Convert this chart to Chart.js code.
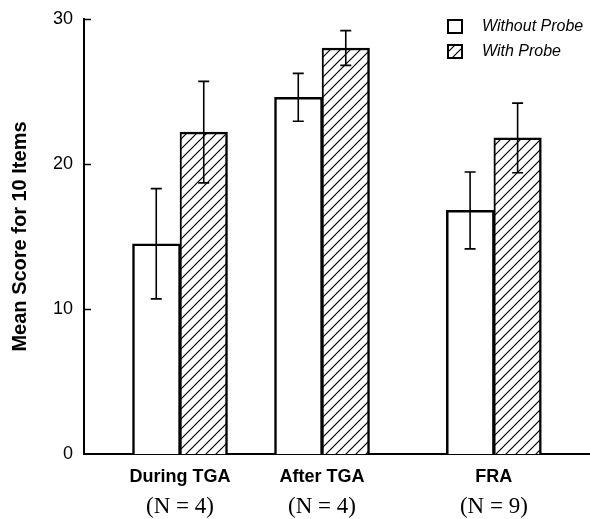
<!DOCTYPE html>
<html>
<head>
<meta charset="utf-8">
<title>Mean Score for 10 Items</title>
<script src="https://cdn.jsdelivr.net/npm/chart.js@4.4.1/dist/chart.umd.min.js"></script>
<style>
    html, body { margin: 0; padding: 0; background: #fff; }
    canvas { display: block; }
</style>
</head>
<body>
<canvas id="scoreChart" width="590" height="519"></canvas>
<script>
// ---------- DATA ----------
const groups = ['During TGA', 'After TGA', 'FRA'];
const groupSizes = ['(N = 4)', '(N = 4)', '(N = 9)'];
const seriesNames = ['Without Probe', 'With Probe'];

const withoutProbe = [14.5, 24.6, 16.8];
const withoutProbeErr = [3.8, 1.65, 2.65];
const withProbe = [22.2, 28.0, 21.8];
const withProbeErr = [3.5, 1.2, 2.4];

const yTicks = [0, 10, 20, 30];

// ---------- LAYOUT / STYLE ----------
// groups are not evenly spaced in the original, so x is a linear axis
const groupX = [1, 2, 3.21];
const sans = '"Liberation Sans", Arial, Helvetica, sans-serif';
const serif = '"Liberation Serif", "Times New Roman", serif';

var canvas = document.getElementById('scoreChart');
var ctx = canvas.getContext('2d');

// diagonal "/" hatch for the With Probe bars
function makeHatch() {
    const size = 10;
    const tile = document.createElement('canvas');
    tile.width = size;
    tile.height = size;
    const g = tile.getContext('2d');
    g.fillStyle = '#fff';
    g.fillRect(0, 0, size, size);
    g.strokeStyle = '#000';
    g.lineWidth = 1.2;
    g.beginPath();
    g.moveTo(-1, size + 1); g.lineTo(size + 1, -1);
    g.moveTo(-1, 1); g.lineTo(1, -1);
    g.moveTo(size - 1, size + 1); g.lineTo(size + 1, size - 1);
    g.stroke();
    return ctx.createPattern(tile, 'repeat');
}

function points(values) {
    return values.map((v, i) => ({ x: groupX[i], y: v }));
}

// error bars (mean +/- err), drawn on top of the bars
const errorBars = {
    id: 'errorBars',
    afterDatasetsDraw(chart) {
        const c = chart.ctx, y = chart.scales.y;
        c.save();
        c.strokeStyle = '#000';
        c.lineWidth = 1.6;
        chart.data.datasets.forEach((ds, d) => {
            chart.getDatasetMeta(d).data.forEach((bar, i) => {
                const v = ds.data[i].y, e = ds.errors[i];
                const top = y.getPixelForValue(v + e);
                const bot = y.getPixelForValue(v - e);
                c.beginPath();
                c.moveTo(bar.x, top); c.lineTo(bar.x, bot);
                c.moveTo(bar.x - 5.5, top); c.lineTo(bar.x + 5.5, top);
                c.moveTo(bar.x - 5.5, bot); c.lineTo(bar.x + 5.5, bot);
                c.stroke();
            });
        });
        c.restore();
    }
};

// inward tick marks on the y axis, the "(N = x)" line and the legend
const extras = {
    id: 'extras',
    afterDraw(chart) {
        const c = chart.ctx, x = chart.scales.x, y = chart.scales.y;
        const left = chart.chartArea.left;
        c.save();
        c.strokeStyle = '#000';
        c.lineWidth = 1.5;
        yTicks.forEach(t => {
            if (t === 0) return;
            const py = Math.round(y.getPixelForValue(t)) + 0.5;
            c.beginPath();
            c.moveTo(left, py);
            c.lineTo(left + 7, py);
            c.stroke();
        });

        c.fillStyle = '#000';
        c.font = '23px ' + serif;
        c.textAlign = 'center';
        c.textBaseline = 'middle';
        groupSizes.forEach((s, i) => {
            c.fillText(s, x.getPixelForValue(groupX[i]), 507);
        });

        // legend
        c.font = 'italic 16px ' + sans;
        c.textAlign = 'left';
        chart.data.datasets.forEach((ds, d) => {
            const bx = 448, by = 20 + d * 25;
            c.fillStyle = ds.backgroundColor;
            c.fillRect(bx, by, 14, 13);
            c.lineWidth = 2;
            c.strokeRect(bx, by, 14, 13);
            c.fillStyle = '#000';
            c.fillText(ds.label, 482, by + 7);
        });
        c.restore();
    }
};

var scoreChart = new Chart(ctx, {
    type: 'bar',
    data: {
        datasets: [{
            label: seriesNames[0],
            data: points(withoutProbe),
            errors: withoutProbeErr,
            backgroundColor: '#fff',
            borderColor: '#000',
            borderWidth: { top: 2.5, left: 2.5, right: 2, bottom: 0 }
        }, {
            label: seriesNames[1],
            data: points(withProbe),
            errors: withProbeErr,
            backgroundColor: makeHatch(),
            borderColor: '#000',
            borderWidth: { top: 2.5, left: 2, right: 2.5, bottom: 0 }
        }]
    },
    options: {
        responsive: false,
        animation: false,
        barThickness: 47.5,
        layout: { padding: { top: 19, right: 0, left: 0, bottom: 0 } },
        plugins: {
            legend: { display: false },
            tooltip: { enabled: false }
        },
        scales: {
            x: {
                type: 'linear',
                min: 0.324,
                max: 3.887,
                offset: false,
                grid: { display: false, offset: false },
                border: { display: true, color: '#000', width: 2 },
                afterBuildTicks: s => { s.ticks = groupX.map(v => ({ value: v })); },
                afterFit: s => { s.height = 65; },
                ticks: {
                    autoSkip: false,
                    maxRotation: 0,
                    padding: 4,
                    color: '#000',
                    font: { family: sans, size: 18, weight: 'bold' },
                    callback: (value, index) => groups[index]
                }
            },
            y: {
                min: 0,
                max: 30,
                grid: { display: false },
                border: { display: true, color: '#000', width: 2 },
                afterBuildTicks: s => { s.ticks = yTicks.map(v => ({ value: v })); },
                afterFit: s => { s.width = 84; },
                ticks: {
                    color: '#000',
                    font: { family: sans, size: 18 }
                },
                title: {
                    display: true,
                    text: 'Mean Score for 10 Items',
                    color: '#000',
                    font: { family: sans, size: 20, weight: 'bold' },
                    padding: { top: 8, bottom: 0 }
                }
            }
        }
    },
    plugins: [errorBars, extras]
});
</script>
</body>
</html>
